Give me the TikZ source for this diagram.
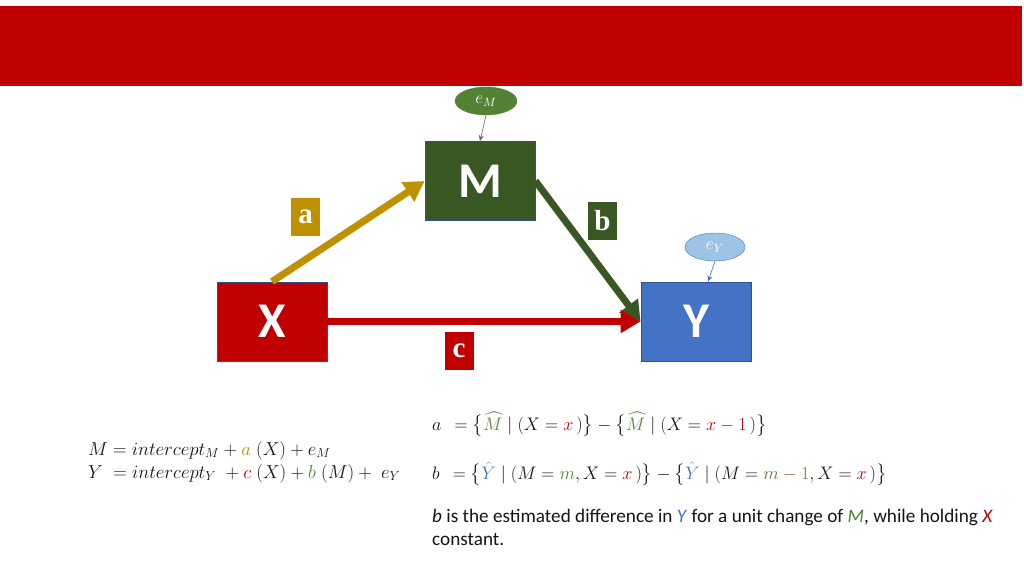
\documentclass[tikz,border=0pt]{standalone}
\usepackage{amsmath}
\usepackage{graphicx}
\usepackage{fontspec}
\setmainfont{Carlito}
\newfontfamily\labfont{Liberation Serif}
\usetikzlibrary{arrows.meta,shapes.geometric}
\definecolor{bannerred}{RGB}{192,0,0}
\definecolor{mgreen}{RGB}{56,87,35}
\definecolor{egreen}{RGB}{84,130,53}
\definecolor{yblue}{RGB}{68,114,196}
\definecolor{goldc}{RGB}{191,144,0}
\definecolor{lightblue}{RGB}{157,195,230}
\definecolor{edgeblue}{RGB}{47,82,143}
\definecolor{textgray}{RGB}{20,20,20}
\tikzset{
  varbox/.style={draw=edgeblue, line width=0.8pt, minimum width=110pt, minimum height=79pt, inner sep=0pt,
    text=white, font=\fontsize{50}{50}\selectfont\bfseries},
  labbox/.style={minimum width=29pt, minimum height=38pt, inner sep=0pt, text=white,
    font=\labfont\fontsize{29}{29}\selectfont\bfseries},
  bigarrow/.style={line width=7pt, -{Triangle[length=20pt,width=22pt]}},
  thinarrow/.style={line width=0.6pt, -{Stealth[length=6pt,width=5pt]}},
  errnode/.style={ellipse, minimum width=62pt, minimum height=28pt, inner sep=0pt, text=white, font=\fontsize{14.4}{14.4}\selectfont},
  eqtext/.style={anchor=base west, inner sep=0pt, text=textgray, font=\fontsize{17.28}{17.28}\selectfont},
}
\begin{document}
\begin{tikzpicture}[x=1pt,y=-1pt]
\useasboundingbox (0,0) rectangle (1024,575);
\fill[bannerred] (0,6) rectangle (1022,86);
% boxes
\node[varbox, fill=mgreen] (M) at (480,181) {M};
\node[varbox, fill=bannerred] (X) at (272,321.5) {X};
\node[varbox, fill=yblue] (Y) at (696,321.5) {Y};
% error terms
\node[errnode, fill=egreen, draw=egreen] (eM) at (486,101) {\scalebox{1.2}{$e_M$}};
\node[errnode, fill=lightblue, draw=yblue, minimum width=60pt] (eY) at (715,247) {\scalebox{1.2}{$e_Y$}};
% arrows
\draw[bigarrow, goldc] (X.north) -- (M.west);
\draw[bigarrow, mgreen] (M.east) -- (Y.west);
\draw[bigarrow, bannerred] (X.east) -- (Y.west);
\draw[thinarrow, gray!80!black] (eM.south) -- (M.north);
\draw[thinarrow, yblue] (eY.south) -- ([xshift=12pt]Y.north);
% path labels
\node[labbox, fill=goldc] (la) at (305.5,217) {a};
\node[labbox, fill=mgreen] (lb) at (602.5,221) {b};
\node[labbox, fill=bannerred] (lc) at (459,351) {c};
% equations left
\node[eqtext] (eq1) at (88,455) {\scalebox{1.085}{$M = intercept_M + {\color{goldc}a}\;(X) + e_M$}};
\node[eqtext] (eq2) at (88,478) {\scalebox{1.085}{$Y\; = intercept_Y\; + {\color{bannerred}c}\;(X) + {\color{egreen}b}\;(M) +\; e_Y$}};
% equations right
\node[eqtext] (eqa) at (432,430) {\scalebox{1.05}{$a\;\,= \bigl\{{\color{egreen}\widehat{M}} \mid (X = {\color{bannerred}x}\,)\bigr\} - \bigl\{{\color{egreen}\widehat{M}} \mid (X = {\color{bannerred}x - 1}\,)\bigr\}$}};
\node[eqtext] (eqb) at (432,479) {\scalebox{1.05}{$b\;\,= \bigl\{{\color{yblue}\hat{Y}} \mid (M = {\color{egreen}m}, X = {\color{bannerred}x}\,)\bigr\} - \bigl\{{\color{yblue}\hat{Y}} \mid (M = {\color{egreen}m - 1}, X = {\color{bannerred}x}\,)\bigr\}$}};
% explanation
\node[eqtext, font=\fontsize{19.2}{23}\selectfont, align=left, anchor=north west] (expl) at (432,509)
  {\textit{b} is the estimated difference in {\color{yblue}\textit{Y}} for a unit change of {\color{egreen}\textit{M}}, while holding {\color{bannerred}\textit{X}}\\constant.};
\end{tikzpicture}
\end{document}
